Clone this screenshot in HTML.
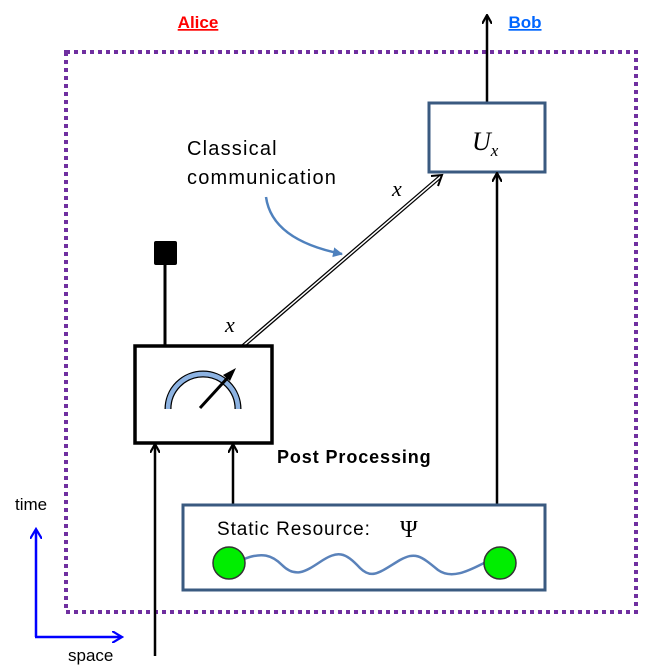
<!DOCTYPE html>
<html><head><style>body{margin:0;background:#fff}svg{display:block}</style></head><body>
<svg width="655" height="672" viewBox="0 0 655 672" xmlns="http://www.w3.org/2000/svg" font-family="Liberation Sans, sans-serif">
<defs>
<marker id="ab" markerWidth="10" markerHeight="10" refX="8" refY="5" orient="auto" markerUnits="userSpaceOnUse"><path d="M0,0 L9,5 L0,10" fill="none" stroke="#000" stroke-width="2.2"/></marker>
<marker id="bb" markerWidth="12" markerHeight="12" refX="9" refY="6" orient="auto" markerUnits="userSpaceOnUse"><path d="M0,0 L10,6 L0,12" fill="none" stroke="#00f" stroke-width="2.2"/></marker>
<marker id="lb" markerWidth="12" markerHeight="12" refX="9" refY="6" orient="auto" markerUnits="userSpaceOnUse"><path d="M0,1 L10,6 L0,11 Z" fill="#4F81BD"/></marker>
</defs>
<rect x="66" y="52" width="570" height="560" fill="none" stroke="#7030A0" stroke-width="4" stroke-dasharray="4,4"/>
<text x="198" y="28" text-anchor="middle" font-size="17" font-weight="bold" fill="#f00" text-decoration="underline">Alice</text>
<text x="525" y="28" text-anchor="middle" font-size="17" font-weight="bold" fill="#0066ff" text-decoration="underline">Bob</text>
<line x1="487" y1="103" x2="487" y2="16" stroke="#000" stroke-width="2.5" marker-end="url(#ab)"/>
<rect x="429" y="103" width="116" height="69" fill="#fff" stroke="#3A5A80" stroke-width="3"/>
<text x="472" y="150" font-family="Liberation Serif, serif" font-style="italic" font-size="26">U<tspan font-size="17" dy="6">x</tspan></text>
<line x1="497" y1="505" x2="497" y2="174" stroke="#000" stroke-width="2.5" marker-end="url(#ab)"/>
<line x1="243" y1="346" x2="440" y2="177" stroke="#000" stroke-width="4"/>
<line x1="243" y1="346" x2="440" y2="177" stroke="#fff" stroke-width="1.5"/>
<path d="M431,176 L442,175 L438,186" fill="none" stroke="#000" stroke-width="2"/>
<text x="225" y="332" font-family="Liberation Serif, serif" font-style="italic" font-size="22">x</text>
<text x="392" y="196" font-family="Liberation Serif, serif" font-style="italic" font-size="22">x</text>
<text x="187" y="155" font-size="20" letter-spacing="1.2">Classical</text>
<text x="187" y="184" font-size="20" letter-spacing="1.2">communication</text>
<path d="M266,197 Q272,240 342,254" fill="none" stroke="#4F81BD" stroke-width="2.5" marker-end="url(#lb)"/>
<rect x="154" y="241" width="23" height="24" rx="2" fill="#000"/>
<line x1="165" y1="265" x2="165" y2="346" stroke="#000" stroke-width="3"/>
<rect x="135" y="346" width="137" height="97" fill="#fff" stroke="#000" stroke-width="3.5"/>
<path d="M168,409 A33,33 0 0 1 238,409" fill="none" stroke="#000" stroke-width="7"/>
<path d="M168,409 A33,33 0 0 1 238,409" fill="none" stroke="#8DB3E2" stroke-width="4.5"/>
<line x1="200" y1="408" x2="232" y2="373" stroke="#000" stroke-width="3"/>
<path d="M236,368 L223,375 L230,381 Z" fill="#000"/>
<text x="277" y="463" font-size="18" font-weight="bold" letter-spacing="0.9">Post Processing</text>
<line x1="155" y1="656" x2="155" y2="445" stroke="#000" stroke-width="2.5" marker-end="url(#ab)"/>
<line x1="233" y1="505" x2="233" y2="445" stroke="#000" stroke-width="2.5" marker-end="url(#ab)"/>
<rect x="183" y="505" width="362" height="85" fill="#fff" stroke="#3A5A80" stroke-width="3"/>
<text x="217" y="535" font-size="19" letter-spacing="0.9">Static Resource:</text>
<text x="400" y="537" font-family="Liberation Serif, serif" font-size="24">Ψ</text>
<path d="M244,559 C262,552 272,555 282,565 C295,578 305,572 320,562 C338,550 345,552 360,568 C372,580 380,572 400,560 C415,552 420,555 438,570 C452,580 470,570 484,563" fill="none" stroke="#5A82BA" stroke-width="2.5"/>
<circle cx="229" cy="563" r="16" fill="#00EE00" stroke="#333" stroke-width="1.5"/>
<circle cx="500" cy="563" r="16" fill="#00EE00" stroke="#333" stroke-width="1.5"/>
<line x1="36" y1="637" x2="36" y2="530" stroke="#00f" stroke-width="2.5" marker-end="url(#bb)"/>
<line x1="35" y1="637" x2="121" y2="637" stroke="#00f" stroke-width="2.5" marker-end="url(#bb)"/>
<text x="15" y="510" font-size="17">time</text>
<text x="68" y="661" font-size="17">space</text>
</svg>
</body></html>
